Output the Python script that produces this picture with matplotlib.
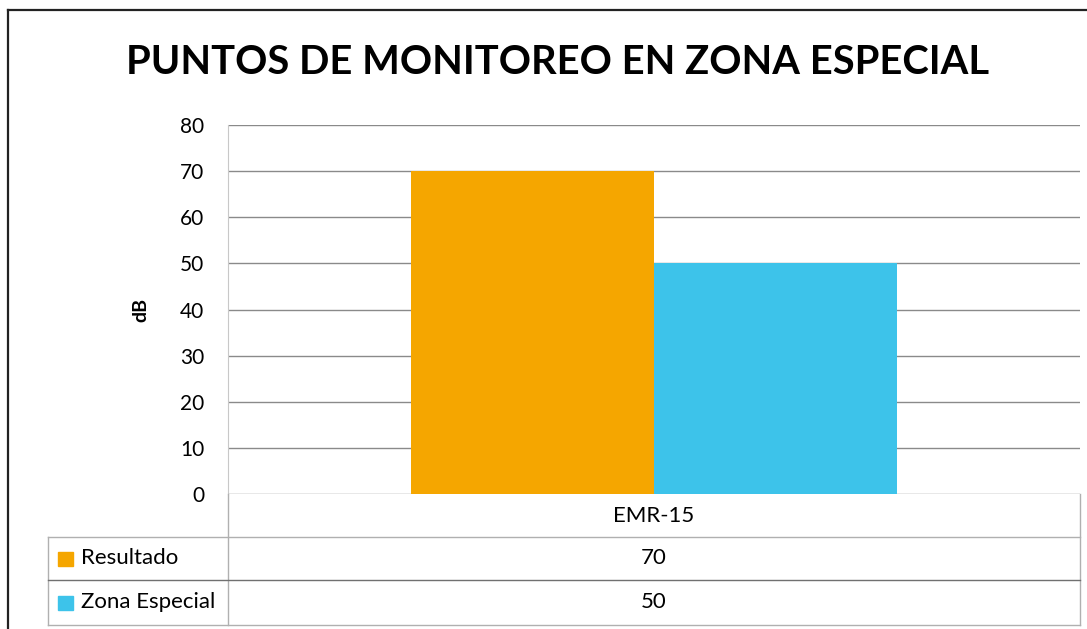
import matplotlib.pyplot as plt
import numpy as np

categories = ["EMR-15"]
series_names = ["Resultado", "Zona Especial"]
resultado = [70]
zona_especial = [50]
colors = ["#F5A600", "#3DC3EA"]
yticks = [0, 10, 20, 30, 40, 50, 60, 70, 80]

W, H = 1087, 629
plt.rcParams['font.family'] = ['Lato', 'DejaVu Sans']

fig = plt.figure(figsize=(W / 100, H / 100), dpi=100)
fig.patch.set_facecolor('white')


def fx(px):
    return px / W


def fy(py):
    return 1 - py / H


ax_l, ax_r, ax_t, ax_b = 228, 1080, 125, 494
ax = fig.add_axes([fx(ax_l), fy(ax_b), fx(ax_r - ax_l), fy(ax_t) - fy(ax_b)])

x = np.arange(len(categories))
bw = 0.285
ax.bar(x - bw / 2, resultado, bw, color=colors[0], label=series_names[0])
ax.bar(x + bw / 2, zona_especial, bw, color=colors[1], label=series_names[1])

ax.set_xlim(-0.5, len(categories) - 0.5)
ax.set_ylim(0, 80)
ax.set_yticks(yticks)
ax.set_yticklabels([str(t) for t in yticks], fontsize=15)
ax.tick_params(axis='y', length=0, pad=17)
ax.set_xticks([])
ax.yaxis.grid(True, color='#8a8a8a', linewidth=1.0)
ax.set_axisbelow(True)
for s in ['top', 'right', 'bottom']:
    ax.spines[s].set_visible(False)
ax.spines['left'].set_color('#c8c8c8')
ax.set_ylabel('dB', fontsize=14, fontweight='bold', labelpad=22)

# title
fig.text(fx(558), fy(62), "PUNTOS DE MONITOREO EN ZONA ESPECIAL",
         fontsize=28.7, fontweight='bold', ha='center', va='center')

# data table below the axes
line_kw = dict(color='#b0b0b0', linewidth=1.0, transform=fig.transFigure)
tl, row1, row2, row3 = 48, 537, 580, 625
fig.add_artist(plt.Line2D([fx(ax_l), fx(ax_l)], [fy(ax_b), fy(row3)], **line_kw))
fig.add_artist(plt.Line2D([fx(ax_r), fx(ax_r)], [fy(ax_b), fy(row3)], **line_kw))
fig.add_artist(plt.Line2D([fx(tl), fx(tl)], [fy(row1), fy(row3)], **line_kw))
fig.add_artist(plt.Line2D([fx(tl), fx(ax_r)], [fy(row1), fy(row1)], **line_kw))
fig.add_artist(plt.Line2D([fx(tl), fx(ax_r)], [fy(row2), fy(row2)], color='#707070',
                          linewidth=1.0, transform=fig.transFigure))
fig.add_artist(plt.Line2D([fx(tl), fx(ax_r)], [fy(row3), fy(row3)], **line_kw))

col_w = (ax_r - ax_l) / len(categories)
for i, c in enumerate(categories):
    cx = ax_l + col_w * (i + 0.5)
    fig.text(fx(cx), fy((ax_b + row1) / 2), c, fontsize=16, ha='center', va='center')
    fig.text(fx(cx), fy((row1 + row2) / 2), str(resultado[i]), fontsize=16,
             ha='center', va='center')
    fig.text(fx(cx), fy((row2 + row3) / 2), str(zona_especial[i]), fontsize=16,
             ha='center', va='center')

for name, col, top, bot in [(series_names[0], colors[0], row1, row2),
                            (series_names[1], colors[1], row2, row3)]:
    yc = (top + bot) / 2
    fig.add_artist(plt.Rectangle((fx(58), fy(yc + 7)), fx(15), fy(yc - 7) - fy(yc + 7),
                                 color=col, transform=fig.transFigure))
    fig.text(fx(81), fy(yc), name, fontsize=16, ha='left', va='center')

# scan frame
frame_kw = dict(color='#222222', linewidth=1.6, transform=fig.transFigure)
fig.add_artist(plt.Line2D([fx(8), fx(8)], [fy(10), fy(629)], **frame_kw))
fig.add_artist(plt.Line2D([fx(8), fx(1087)], [fy(10), fy(10)], **frame_kw))

fig.savefig('out.png', dpi=100, facecolor='white')
